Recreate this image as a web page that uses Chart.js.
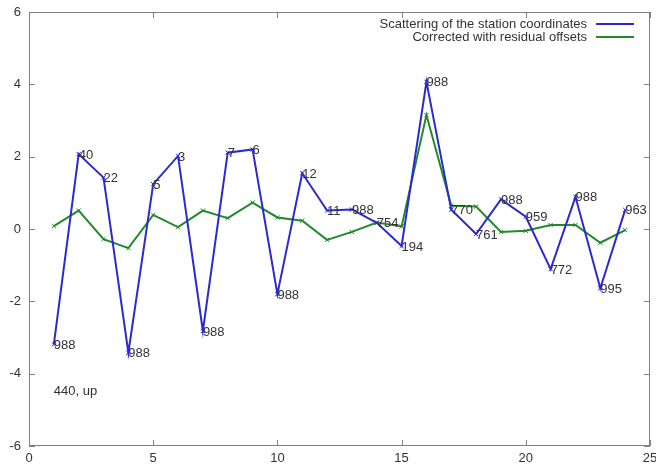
<!DOCTYPE html>
<html>
<head>
<meta charset="utf-8">
<script src="https://cdn.jsdelivr.net/npm/chart.js@4"></script>
<style>
  html, body { margin: 0; padding: 0; background: white; }
  #wrap { width: 656px; height: 468px; }
</style>
</head>
<body>
<div id="wrap"><canvas id="plot"></canvas></div>
<script>
var stations = [1, 2, 3, 4, 5, 6, 7, 8, 9, 10, 11, 12, 13, 14, 15, 16, 17, 18, 19, 20, 21, 22, 23, 24];
var scatterVals = [-3.19, 2.07, 1.42, -3.42, 1.24, 2.02, -2.82, 2.11, 2.2, -1.8, 1.54, 0.51,
                   0.54, 0.17, -0.47, 4.07, 0.53, -0.14, 0.82, 0.34, -1.11, 0.89, -1.64, 0.53];
var correctedVals = [0.08, 0.51, -0.28, -0.53, 0.39, 0.05, 0.51, 0.3, 0.73, 0.32, 0.23, -0.3,
                     -0.08, 0.18, 0.07, 3.15, 0.64, 0.62, -0.08, -0.05, 0.11, 0.11, -0.38, -0.03];
var pointLabels = ["988", "40", "22", "988", "5", "3", "988", "7", "6", "988", "12", "11",
                   "988", "754", "194", "988", "770", "761", "988", "959", "772", "988", "995", "963"];
var xTicks = [0, 5, 10, 15, 20, 25];
var yTicks = [-6, -4, -2, 0, 2, 4, 6];

var font = "13px 'Liberation Sans', Arial, sans-serif";
var textColor = "#333";

function pts(vals) {
    return stations.map(function (s, i) { return {x: s, y: vals[i]}; });
}

var gnuplotFrame = {
    id: 'gnuplotFrame',
    afterDatasetsDraw: function (chart) {
        var ctx = chart.ctx;
        var a = chart.chartArea;
        var xs = chart.scales.x, ys = chart.scales.y;
        ctx.save();
        // border
        ctx.strokeStyle = "#808080";
        ctx.lineWidth = 1;
        ctx.strokeRect(a.left + 0.5, a.top + 0.5, a.right - a.left - 1, a.bottom - a.top - 1);
        // inward ticks on all sides
        ctx.beginPath();
        xTicks.forEach(function (t) {
            var px = Math.round(xs.getPixelForValue(t)) + 0.5;
            ctx.moveTo(px, a.bottom); ctx.lineTo(px, a.bottom - 6);
            ctx.moveTo(px, a.top); ctx.lineTo(px, a.top + 6);
        });
        yTicks.forEach(function (t) {
            var py = Math.round(ys.getPixelForValue(t)) + 0.5;
            ctx.moveTo(a.left, py); ctx.lineTo(a.left + 6, py);
            ctx.moveTo(a.right, py); ctx.lineTo(a.right - 6, py);
        });
        ctx.stroke();
        // tick labels
        ctx.fillStyle = textColor;
        ctx.font = font;
        ctx.textAlign = "center";
        ctx.textBaseline = "middle";
        xTicks.forEach(function (t) {
            ctx.fillText(String(t), xs.getPixelForValue(t), a.bottom + 12);
        });
        ctx.textAlign = "right";
        yTicks.forEach(function (t) {
            ctx.fillText(String(t), a.left - 8, ys.getPixelForValue(t));
        });
        // point labels
        ctx.textAlign = "left";
        scatterVals.forEach(function (v, i) {
            ctx.fillText(pointLabels[i], xs.getPixelForValue(stations[i]), ys.getPixelForValue(v) + 1);
        });
        // annotation
        ctx.fillText("440, up", xs.getPixelForValue(1), ys.getPixelForValue(-4.5));
        // legend
        ctx.textAlign = "right";
        chart.data.datasets.forEach(function (ds, i) {
            var y = a.top + 12 + i * 13;
            ctx.fillStyle = textColor;
            ctx.fillText(ds.label, a.right - 63, y);
            ctx.strokeStyle = ds.borderColor;
            ctx.lineWidth = 2;
            ctx.beginPath();
            ctx.moveTo(a.right - 54, y);
            ctx.lineTo(a.right - 16, y);
            ctx.stroke();
        });
        ctx.restore();
    }
};

new Chart(document.getElementById("plot"), {
    type: "scatter",
    data: {
        datasets: [{
            label: "Scattering of the station coordinates",
            data: pts(scatterVals),
            showLine: true,
            borderColor: "#2a2ad0",
            backgroundColor: "#2a2ad0",
            borderWidth: 2,
            pointStyle: "crossRot",
            pointRadius: 3,
            pointBorderWidth: 1
        }, {
            label: "Corrected with residual offsets",
            data: pts(correctedVals),
            showLine: true,
            borderColor: "#23892a",
            backgroundColor: "#23892a",
            borderWidth: 2,
            pointStyle: "crossRot",
            pointRadius: 3,
            pointBorderWidth: 1
        }]
    },
    options: {
        responsive: true,
        maintainAspectRatio: false,
        animation: false,
        layout: { padding: { top: 12, right: 6, left: 0, bottom: 0 } },
        plugins: {
            legend: { display: false },
            tooltip: { enabled: false }
        },
        scales: {
            x: {
                type: "linear",
                min: 0, max: 25,
                grid: { display: false },
                border: { display: false },
                ticks: { display: false },
                afterFit: function (s) { s.height = 22; }
            },
            y: {
                min: -6, max: 6,
                grid: { display: false },
                border: { display: false },
                ticks: { display: false },
                afterFit: function (s) { s.width = 29; }
            }
        }
    },
    plugins: [gnuplotFrame]
});
</script>
</body>
</html>
